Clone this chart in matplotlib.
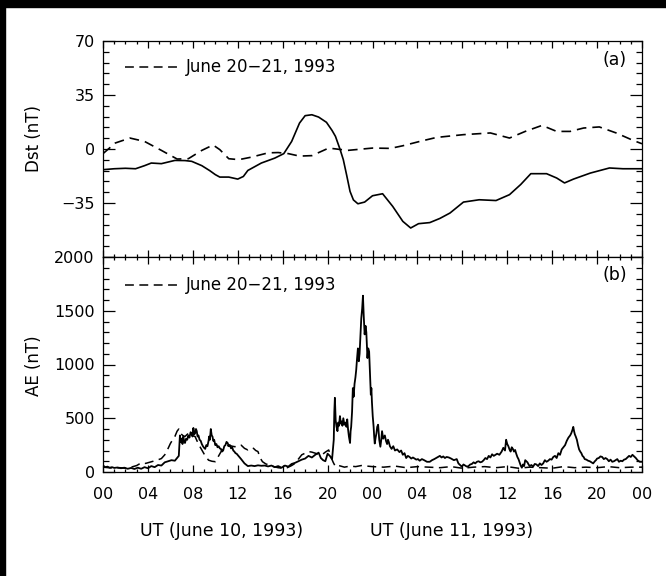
import numpy as np
import matplotlib
matplotlib.use("Agg")
import matplotlib.pyplot as plt
from matplotlib.patches import Rectangle
from matplotlib.ticker import MultipleLocator

# Dst (nT), storm interval June 10-11 1993 (solid)
dst_hours = [0, 1, 2, 2.9, 3.7, 4.3, 5.2, 6.4, 7.3, 7.9, 8.8, 9.5, 10.0, 10.4, 11.2,
             12.0, 12.5, 12.9, 13.5, 14.1, 15.3, 16.1, 16.8, 17.5, 18.0, 18.6, 19.2,
             19.9, 20.4, 20.7, 21.1, 21.4, 21.7, 22.0, 22.3, 22.7, 23.3, 24.0, 24.9,
             25.8, 26.7, 27.4, 28.1, 29.1, 30.0, 30.9, 32.1, 33.5, 35.0, 36.2, 37.2,
             38.1, 39.5, 40.4, 41.1, 41.9, 43.4, 45.1, 46.3, 48]
dst_storm = [-13.4, -12.8, -12.5, -12.8, -10.8, -9.1, -9.5, -7.4, -7.5, -8.0, -10.8,
             -14.0, -16.6, -18.2, -18.2, -19.5, -17.8, -13.9, -11.5, -9.1, -5.9, -3.0,
             4.9, 16.8, 21.6, 22.2, 20.7, 17.3, 12.0, 8.2, 0.0, -6.9, -17.0, -27.5,
             -33.0, -35.5, -34.4, -30.3, -29.0, -37.2, -46.9, -51.2, -48.4, -47.7,
             -45.0, -41.5, -34.4, -32.9, -33.4, -29.6, -23.0, -16.0, -16.0, -18.8,
             -22.0, -19.5, -15.6, -12.3, -12.8, -12.8]

# Dst (nT), quiet interval June 20-21 1993 (dashed)
dstq_hours = [0, 1.1, 2.4, 3.7, 5.2, 6.6, 7.6, 8.8, 9.8, 10.4, 11.2, 12.1, 13.2, 14.7,
              15.6, 16.5, 17.5, 18.6, 20.1, 21.8, 24.0, 25.6, 26.7, 28.2, 29.7, 32.1,
              34.5, 36.2, 37.6, 39.1, 40.4, 41.6, 42.8, 44.2, 45.7, 47.2, 48]
dst_quiet = [-3.0, 3.9, 7.1, 4.9, -0.9, -6.5, -6.3, -0.9, 2.6, -0.4, -6.3, -6.9, -5.3,
             -2.5, -2.3, -3.0, -4.6, -4.3, 0.6, -0.9, 0.6, 0.4, 2.1, 4.9, 7.5, 9.3,
             10.4, 7.1, 11.4, 15.3, 11.4, 11.4, 13.6, 14.3, 10.4, 5.6, 3.4]

# AE (nT), storm interval, (hour, value)
ae_storm_pts = [
    (0.0, 60), (0.2, 45), (0.4, 50), (0.6, 40), (0.8, 45), (1.0, 38), (1.3, 42),
    (1.6, 35), (1.9, 40), (2.2, 30), (2.5, 38), (2.8, 28), (3.1, 40), (3.4, 30),
    (3.7, 45), (4.0, 35), (4.3, 55), (4.6, 45), (4.9, 65), (5.2, 60), (5.5, 90),
    (5.8, 100), (6.1, 110), (6.4, 105), (6.6, 130), (6.75, 150), (6.85, 340),
    (6.93, 280), (7.0, 310), (7.08, 260), (7.15, 330), (7.22, 290), (7.3, 270),
    (7.4, 310), (7.5, 300), (7.6, 340), (7.7, 320), (7.8, 370), (7.9, 360),
    (7.97, 330), (8.05, 410), (8.12, 350), (8.2, 360), (8.28, 400), (8.35, 380),
    (8.42, 330), (8.5, 340), (8.6, 300), (8.7, 290), (8.8, 260), (8.9, 240),
    (9.0, 225), (9.1, 215), (9.2, 250), (9.3, 240), (9.4, 290), (9.45, 330),
    (9.52, 300), (9.6, 400), (9.68, 340), (9.75, 330), (9.82, 290), (9.9, 300),
    (10.0, 250), (10.1, 260), (10.2, 230), (10.3, 240), (10.4, 220), (10.5, 215),
    (10.6, 190), (10.7, 200), (10.8, 240), (10.9, 250), (11.0, 280), (11.1, 270),
    (11.2, 240), (11.3, 250), (11.4, 220), (11.5, 230), (11.6, 200), (11.7, 190),
    (11.8, 175), (11.9, 170), (12.1, 145), (12.3, 120), (12.6, 80), (12.9, 55),
    (13.2, 60), (13.5, 55), (13.8, 62), (14.1, 58), (14.4, 60), (14.7, 52),
    (15.0, 60), (15.3, 45), (15.6, 55), (15.9, 40), (16.2, 60), (16.5, 50),
    (16.8, 75), (17.1, 85), (17.4, 100), (17.7, 115), (18.0, 125), (18.3, 150),
    (18.6, 135), (18.9, 160), (19.2, 180), (19.4, 130), (19.6, 110), (19.8, 100),
    (20.0, 170), (20.2, 150), (20.4, 120), (20.55, 300), (20.6, 560), (20.65, 690),
    (20.72, 480), (20.8, 420), (20.88, 380), (20.95, 460), (21.02, 430),
    (21.1, 520), (21.18, 450), (21.25, 470), (21.32, 430), (21.4, 500),
    (21.5, 440), (21.6, 460), (21.68, 420), (21.75, 490), (21.82, 400),
    (21.9, 330), (22.0, 270), (22.05, 380), (22.1, 420), (22.18, 560),
    (22.25, 780), (22.32, 700), (22.4, 820), (22.48, 880), (22.55, 950),
    (22.62, 1050), (22.7, 1150), (22.78, 1030), (22.85, 1100), (22.92, 1250),
    (23.0, 1430), (23.08, 1520), (23.15, 1640), (23.22, 1450), (23.3, 1280),
    (23.38, 1360), (23.45, 1300), (23.5, 1180), (23.55, 1060), (23.62, 1150),
    (23.7, 1120), (23.78, 900), (23.85, 720), (23.9, 780), (23.95, 650),
    (24.02, 520), (24.1, 420), (24.15, 330), (24.2, 265), (24.28, 320),
    (24.35, 360), (24.42, 420), (24.5, 440), (24.6, 300), (24.7, 235),
    (24.78, 300), (24.85, 380), (24.95, 310), (25.1, 340), (25.2, 290),
    (25.3, 260), (25.38, 300), (25.45, 280), (25.55, 240), (25.7, 215),
    (25.85, 240), (26.0, 200), (26.2, 210), (26.4, 185), (26.55, 200),
    (26.7, 160), (26.85, 175), (27.0, 130), (27.15, 150), (27.3, 140),
    (27.45, 125), (27.6, 135), (27.75, 125), (27.9, 115), (28.05, 120),
    (28.2, 105), (28.4, 120), (28.6, 110), (28.85, 95), (29.1, 95), (29.3, 110),
    (29.5, 120), (29.75, 135), (30.0, 150), (30.15, 135), (30.3, 145),
    (30.45, 130), (30.6, 140), (30.8, 135), (31.0, 125), (31.25, 110),
    (31.5, 120), (31.65, 80), (31.8, 65), (31.95, 50), (32.1, 70), (32.25, 60),
    (32.4, 50), (32.55, 55), (32.7, 70), (32.85, 75), (33.0, 90), (33.15, 80),
    (33.3, 95), (33.45, 100), (33.6, 90), (33.75, 95), (33.9, 110), (34.05, 130),
    (34.2, 120), (34.35, 150), (34.5, 135), (34.65, 165), (34.8, 150),
    (34.95, 160), (35.1, 170), (35.3, 160), (35.5, 190), (35.65, 225),
    (35.8, 200), (35.9, 300), (36.0, 260), (36.1, 240), (36.2, 210), (36.3, 190),
    (36.4, 230), (36.5, 215), (36.6, 190), (36.7, 205), (36.8, 170), (36.9, 140),
    (37.0, 120), (37.1, 90), (37.2, 60), (37.3, 40), (37.4, 70), (37.5, 55),
    (37.6, 110), (37.7, 100), (37.8, 90), (37.9, 70), (38.0, 55), (38.15, 65),
    (38.3, 50), (38.45, 75), (38.6, 70), (38.75, 55), (38.9, 80), (39.05, 65),
    (39.2, 80), (39.35, 110), (39.5, 95), (39.65, 105), (39.8, 120),
    (39.95, 115), (40.1, 140), (40.25, 150), (40.4, 130), (40.55, 175),
    (40.7, 160), (40.85, 210), (41.0, 230), (41.15, 250), (41.3, 290),
    (41.45, 320), (41.6, 340), (41.7, 360), (41.8, 390), (41.88, 420),
    (41.95, 380), (42.02, 350), (42.1, 330), (42.2, 300), (42.3, 250),
    (42.4, 210), (42.5, 190), (42.6, 175), (42.7, 150), (42.8, 140), (42.9, 120),
    (43.05, 115), (43.2, 105), (43.35, 100), (43.5, 90), (43.65, 80), (43.8, 100),
    (43.9, 110), (44.0, 125), (44.15, 130), (44.3, 145), (44.45, 140),
    (44.6, 120), (44.75, 130), (44.9, 120), (45.05, 100), (45.2, 115),
    (45.35, 95), (45.5, 100), (45.65, 110), (45.8, 120), (45.95, 95),
    (46.1, 105), (46.25, 100), (46.4, 115), (46.55, 120), (46.7, 135),
    (46.85, 150), (47.0, 140), (47.15, 160), (47.3, 145), (47.45, 130),
    (47.6, 110), (47.8, 95), (48.0, 95),
]
ae_hours = [p[0] for p in ae_storm_pts]
ae_storm = [p[1] for p in ae_storm_pts]

# AE (nT), quiet interval
aeq_hours = [0.0, 0.5, 1.0, 1.5, 2.0, 2.5, 3.0, 3.4, 3.8, 4.3, 4.8, 5.2, 5.5, 5.8, 6.0,
             6.2, 6.4, 6.6, 6.75, 6.9, 7.1, 7.3, 7.5, 7.7, 7.9, 8.2, 8.5, 8.8, 9.1,
             9.4, 9.7, 10.0, 10.3, 10.6, 10.9, 11.2, 11.5, 11.75, 12.0, 12.3, 12.6,
             12.9, 13.2, 13.4, 13.6, 13.8, 14.0, 14.2, 14.5, 14.8, 15.2, 15.6, 16.0,
             16.4, 16.8, 17.1, 17.4, 17.7, 18.0, 18.3, 18.6, 18.9, 19.2, 19.5, 19.8,
             20.1, 20.3, 20.5, 20.7, 21.0, 21.5, 22.0, 22.5, 23.0, 23.5, 24.0, 25,
             26, 27, 28, 29, 30, 31, 32, 33, 34, 35, 36, 37, 38, 39, 40, 41, 42, 43,
             44, 45, 46, 47, 48]
ae_quiet = [45, 40, 35, 40, 35, 45, 60, 85, 80, 95, 110, 125, 160, 220, 265,
            300, 330, 380, 400, 360, 340, 330, 350, 365, 340, 330, 260, 205, 150,
            110, 100, 96, 150, 205, 230, 250, 240, 235, 250, 250, 220,
            205, 225, 220, 200, 190, 130, 96, 75, 65, 50, 40, 35,
            40, 60, 80, 120, 160, 175, 190, 185, 175, 165, 160, 185,
            205, 140, 90, 50, 60, 45, 55, 50, 60, 55, 50, 45,
            55, 40, 50, 45, 40, 50, 35, 45, 50, 40, 50, 35, 45, 40, 35, 50, 40, 45,
            40, 50, 40, 45, 45]

tick_hours = list(range(0, 49, 4))
tick_labels = ["00", "04", "08", "12", "16", "20", "00", "04", "08", "12", "16", "20", "00"]
quiet_label = "June 20\u221221, 1993"

plt.rcParams["font.family"] = "DejaVu Sans"
fig = plt.figure(figsize=(6.66, 5.76), dpi=100)
fig.patch.set_facecolor("white")

L, W = 103 / 666, 539 / 666
ax1 = fig.add_axes([L, 1 - 257 / 576, W, 216 / 576])
ax2 = fig.add_axes([L, 1 - 472 / 576, W, 215 / 576])

dash = (0, (5.8, 3.6))

ax1.plot(dst_hours, dst_storm, color="black", lw=1.2)
ax1.plot(dstq_hours, dst_quiet, color="black", lw=1.2, linestyle=dash)
ax1.set_ylim(-70, 70)
ax1.set_yticks([-70, -35, 0, 35, 70])
ax1.set_yticklabels(["", "\u221235", "0", "35", "70"])
ax1.yaxis.set_minor_locator(MultipleLocator(7))

ax2.plot(ae_hours, ae_storm, color="black", lw=1.3)
ax2.plot(aeq_hours, ae_quiet, color="black", lw=1.1, linestyle=dash)
ax2.set_ylim(0, 2000)
ax2.set_yticks([0, 500, 1000, 1500, 2000])
ax2.yaxis.set_minor_locator(MultipleLocator(100))

for ax, tag, ly in ((ax1, "(a)", 0.912), (ax2, "(b)", 0.916)):
    ax.set_xlim(0, 48)
    ax.set_xticks(tick_hours)
    ax.xaxis.set_minor_locator(MultipleLocator(1))
    ax.tick_params(axis="both", which="both", direction="in", top=True, right=True,
                   width=0.9, labelsize=11.5)
    ax.tick_params(axis="y", which="major", length=8.6, pad=6)
    ax.tick_params(axis="y", which="minor", length=4.3)
    ax.tick_params(axis="x", which="major", length=5, pad=10.5)
    ax.tick_params(axis="x", which="minor", length=2.5)
    for s in ax.spines.values():
        s.set_linewidth(0.9)
    ax.text(0.95, ly, tag, transform=ax.transAxes, ha="center", va="center", fontsize=12.5)

ax1.set_xticklabels([])
ax2.set_xticklabels(tick_labels)

# legend entries for the quiet interval
ax1.plot([0.041, 0.139], [0.881, 0.881], transform=ax1.transAxes, color="black",
         lw=1.1, linestyle=dash)
ax1.text(0.154, 0.881, quiet_label, transform=ax1.transAxes, ha="left", va="center",
         fontsize=12)
ax2.plot([0.041, 0.139], [0.870, 0.870], transform=ax2.transAxes, color="black",
         lw=1.1, linestyle=dash)
ax2.text(0.154, 0.870, quiet_label, transform=ax2.transAxes, ha="left", va="center",
         fontsize=12)

fig.text(34 / 666, 1 - 139 / 576, "Dst (nT)", rotation=90, ha="center", va="center",
         fontsize=12)
fig.text(34 / 666, 1 - 366 / 576, "AE (nT)", rotation=90, ha="center", va="center",
         fontsize=12)
fig.text(222 / 666, 1 - 531 / 576, "UT (June 10, 1993)", ha="center", va="center",
         fontsize=12.5)
fig.text(452 / 666, 1 - 531 / 576, "UT (June 11, 1993)", ha="center", va="center",
         fontsize=12.5)

# black border strips along the left and top edges
fig.patches.append(Rectangle((0, 0), 5 / 666, 1, transform=fig.transFigure,
                             color="black", zorder=10))
fig.patches.append(Rectangle((0, 1 - 7 / 576), 1, 7 / 576, transform=fig.transFigure,
                             color="black", zorder=10))

fig.savefig("out.png", dpi=100, facecolor="white")
